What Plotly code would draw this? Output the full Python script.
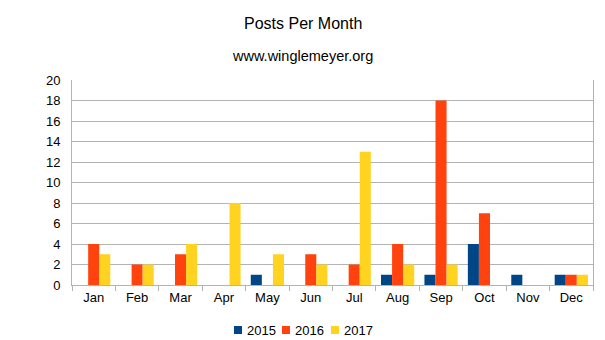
import plotly.graph_objects as go

months = ["Jan", "Feb", "Mar", "Apr", "May", "Jun", "Jul", "Aug", "Sep", "Oct", "Nov", "Dec"]
s2015 = [0, 0, 0, 0, 1, 0, 0, 1, 1, 4, 1, 1]
s2016 = [4, 2, 3, 0, 0, 3, 2, 4, 18, 7, 0, 1]
s2017 = [3, 2, 4, 8, 3, 2, 13, 2, 2, 0, 0, 1]
series = [("2015", s2015, "#004586"), ("2016", s2016, "#ff420e"), ("2017", s2017, "#ffd320")]

W, H = 605, 340
ML, MR, MT, MB = 72, 12, 80, 55
PW, PH = W - ML - MR, H - MT - MB


def px_x(x):
    return (x - ML) / PW


def px_y(y):
    return (H - MB - y) / PH


fig = go.Figure()
for name, vals, col in series:
    fig.add_trace(go.Bar(x=months, y=vals, name=name, showlegend=False,
                         marker=dict(color=col, line=dict(width=0))))

font = "Liberation Sans, Arial, sans-serif"
annotations = [
    dict(text="Posts Per Month", x=px_x(303), y=px_y(23.5), xref="paper", yref="paper", showarrow=False,
         xanchor="center", yanchor="middle", font=dict(size=16)),
    dict(text="www.winglemeyer.org", x=px_x(302), y=px_y(56), xref="paper", yref="paper", showarrow=False,
         xanchor="center", yanchor="middle", font=dict(size=14.5)),
]
shapes = []
legend_x = [234, 282, 331]
for (name, vals, col), lx in zip(series, legend_x):
    shapes.append(dict(type="rect", xref="paper", yref="paper",
                       x0=px_x(lx), x1=px_x(lx + 8), y0=px_y(334), y1=px_y(326),
                       fillcolor=col, line=dict(width=0)))
    annotations.append(dict(text=name, x=px_x(lx + 11), y=px_y(330), xref="paper", yref="paper",
                            xanchor="left", yanchor="middle", showarrow=False, font=dict(size=13)))

fig.update_layout(
    width=W, height=H,
    margin=dict(l=ML, r=MR, t=MT, b=MB),
    paper_bgcolor="white", plot_bgcolor="white",
    barmode="group", bargap=0.235, bargroupgap=0,
    font=dict(family=font, size=13, color="#000000"),
    showlegend=False,
    annotations=annotations,
    shapes=shapes,
)

fig.update_xaxes(showline=True, linecolor="#b3b3b3", linewidth=1, ticks="outside", tickson="boundaries",
                 ticklen=5, tickcolor="#b3b3b3", showgrid=False, tickfont=dict(size=13), automargin=False)
fig.update_yaxes(range=[0, 20], dtick=2, showline=True, mirror=True, linecolor="#b3b3b3", linewidth=1,
                 showgrid=True, gridcolor="#b3b3b3", gridwidth=1, ticks="", zeroline=False,
                 tickfont=dict(size=13), ticklabelstandoff=8, automargin=False)

fig.write_html("out.html")
